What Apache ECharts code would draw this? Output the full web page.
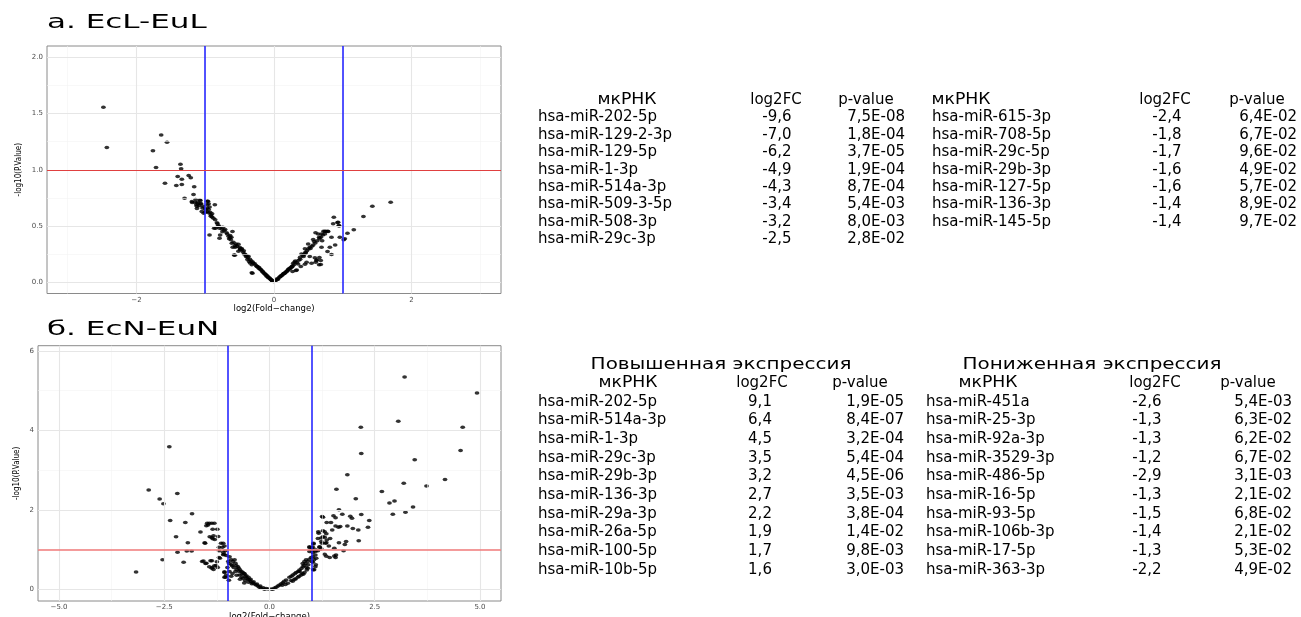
<!DOCTYPE html>
<html><head><meta charset="utf-8">
<script src="https://cdn.jsdelivr.net/npm/echarts@6/dist/echarts.min.js"></script>
<style>html,body{margin:0;padding:0;background:#fff}#c{width:1301px;height:617px}</style>
</head><body><div id="c"></div>
<script>
// ---------- DATA ----------
const aPoints = [
[-2.48,1.556],[-2.43,1.197],[-1.64,1.31],[-1.555,1.245],[-1.76,1.17],[-1.715,1.02],[-1.36,1.05],[-1.35,1.01],[-1.585,0.88],[-1.40,0.94],[-1.34,0.915],[-1.34,0.87],[-1.42,0.86],[-1.24,0.95],[-1.21,0.93],[-1.16,0.85],[-1.30,0.747],[-1.17,0.78],[-1.19,0.71],[-1.14,0.735],[-1.11,0.711],[-1.08,0.732],[-1.07,0.697],[-1.13,0.69],[-1.09,0.68],[-1.12,0.655],[-1.05,0.628],[-1.02,0.613],[-0.97,0.72],[-0.97,0.69],[-0.97,0.66],[-0.95,0.617],
[-1.193,0.717],[-1.15,0.711],[-1.11,0.697],[-1.12,0.676],[-1.07,0.726],[-1.06,0.697],[-1.03,0.676],[-1.0,0.622],[-0.96,0.72],[-0.95,0.697],[-0.937,0.67],[-0.95,0.646],[-0.928,0.622],[-0.90,0.608],[-0.917,0.587],[-0.88,0.569],[-0.86,0.69],[-0.855,0.555],[-0.937,0.421],[-0.83,0.528],[-0.85,0.48],[-0.816,0.498],[-0.792,0.48],[-0.783,0.421],[-0.758,0.474],[-0.744,0.489],[-0.71,0.468],[-0.792,0.391],[-0.638,0.415],[-0.652,0.386],[-0.628,0.377],[-0.613,0.347],[-0.60,0.311],[-0.565,0.326],[-0.54,0.32],[-0.517,0.338],[-0.50,0.311],[-0.493,0.297],[-0.58,0.243],[-0.517,0.276],[-0.468,0.291],[-0.435,0.252],[-0.406,0.228],[-0.372,0.231],[-0.386,0.202],[-0.362,0.184],[-0.348,0.172],[-0.323,0.155],[-0.30,0.169],[-0.323,0.084],[-0.25,0.14],[-0.217,0.131],[-0.193,0.113],[-0.164,0.095],[-0.13,0.071],[-0.106,0.053],[-0.082,0.039],[-0.048,0.024],[-0.01,0.006],
[-0.87,0.48],[-0.725,0.46],[-0.638,0.395],[-0.604,0.451],[-0.59,0.356],[-0.565,0.311],[-0.493,0.288],[-0.57,0.24],[-0.314,0.08],
[-0.45,0.27],[-0.42,0.25],[-0.40,0.235],[-0.38,0.22],[-0.35,0.205],[-0.33,0.19],[-0.31,0.18],[-0.28,0.165],[-0.26,0.15],[-0.24,0.14],[-0.22,0.125],[-0.2,0.115],[-0.18,0.105],[-0.16,0.09],[-0.14,0.08],[-0.12,0.07],[-0.1,0.058],[-0.09,0.05],[-0.07,0.04],[-0.06,0.034],[-0.04,0.022],[-0.03,0.016],[-0.02,0.01],
[-0.68,0.43],[-0.66,0.41],[-0.62,0.40],[-0.55,0.34],[-0.47,0.30],[-0.44,0.28],[-0.69,0.44],[-0.75,0.45],[-0.80,0.5],[-0.82,0.52],[-0.9,0.58],[-0.92,0.6],[-0.98,0.63],[-1.0,0.65],[-1.04,0.66],
[1.696,0.711],[1.43,0.676],[1.30,0.584],[1.16,0.466],[1.068,0.436],[1.029,0.386],[1.014,0.377],[0.957,0.40],[0.87,0.578],[0.86,0.519],[0.923,0.531],[0.942,0.504],[0.72,0.453],[0.75,0.453],[0.78,0.453],[0.642,0.43],[0.604,0.439],[0.657,0.40],[0.70,0.37],[0.836,0.40],[0.889,0.332],[0.812,0.311],[0.691,0.311],[0.584,0.362],[0.57,0.332],[0.52,0.311],[0.50,0.296],[0.459,0.267],[0.778,0.273],[0.836,0.246],[0.40,0.252],[0.43,0.228],[0.38,0.222],[0.52,0.228],[0.594,0.217],[0.618,0.193],[0.546,0.169],[0.656,0.155],[0.31,0.19],[0.30,0.18],[0.28,0.17],[0.35,0.163],[0.474,0.178],[0.256,0.133],[0.232,0.119],[0.207,0.110],[0.184,0.098],[0.159,0.083],[0.135,0.074],[0.11,0.06],[0.077,0.044],[0.039,0.030],[0.005,0.01],[0.319,0.104],
[0.932,0.533],[0.947,0.50],[0.739,0.451],[0.787,0.451],[0.69,0.43],[0.57,0.38],[0.497,0.341],[0.45,0.297],[0.66,0.22],[0.62,0.20],[0.68,0.193],[0.68,0.157],[0.606,0.177],
[0.02,0.012],[0.05,0.025],[0.06,0.03],[0.09,0.05],[0.1,0.055],[0.12,0.065],[0.14,0.075],[0.15,0.08],[0.17,0.09],[0.19,0.1],[0.21,0.115],[0.22,0.12],[0.24,0.13],[0.26,0.14],[0.27,0.145],[0.29,0.155],[0.33,0.175],[0.36,0.195],[0.38,0.205],[0.42,0.24],[0.44,0.25],[0.46,0.26],[0.48,0.28],[0.53,0.30],[0.55,0.32],[0.60,0.35],[0.63,0.37],[0.66,0.39],[0.68,0.40],[0.71,0.42],[0.74,0.43],
[0.27,0.095],[0.33,0.11],[0.39,0.14],[0.45,0.16]
];
const bPoints = [
[3.21,5.34],[4.93,4.94],[3.06,4.23],[2.17,4.08],[4.59,4.08],[2.18,3.42],[4.54,3.49],[3.45,3.26],[1.85,2.88],[4.17,2.76],[3.73,2.60],[3.19,2.67],[2.67,2.46],[2.05,2.28],[1.59,2.52],[2.97,2.22],[2.85,2.17],[3.41,2.07],[3.23,1.94],[2.93,1.89],[1.65,2.0],[2.18,1.88],[2.37,1.73],[2.34,1.56],[2.12,1.22],[1.27,1.81],[1.52,1.85],[1.57,1.80],[1.73,1.89],[1.92,1.84],[1.96,1.79],[1.36,1.68],[1.46,1.68],[1.57,1.59],[1.64,1.56],[1.68,1.58],[1.85,1.59],[1.98,1.53],[2.11,1.49],[1.49,1.49],[1.16,1.45],[1.27,1.47],[1.35,1.40],[1.15,1.28],[1.23,1.29],[1.31,1.31],[1.44,1.28],[1.045,1.14],[1.25,1.16],[1.35,1.17],[1.65,1.17],[1.79,1.13],[1.82,1.2],[1.76,0.97],[1.54,1.03],[1.41,1.09],[1.19,1.06],[1.23,1.02],[1.11,0.99],[0.95,1.05],[1.0,1.05],[1.07,0.99],[0.95,0.95],[1.03,0.92],[1.09,0.86],[0.99,0.80],[1.11,0.78],[1.03,0.68],[1.09,0.57],[1.04,0.49],[0.87,0.74],[0.83,0.70],[0.79,0.65],[0.91,0.53],[0.78,0.40],[1.31,0.88],[1.35,0.83],[1.43,0.80],[1.54,0.84],[1.58,0.86],[1.57,0.80],
[0.079,0.0],[0.158,0.05],[0.238,0.108],[0.317,0.166],[0.396,0.234],[0.475,0.30],[0.554,0.36],[0.633,0.42],[0.713,0.486],[0.792,0.57],[0.855,0.64],[0.91,0.70],[0.95,0.755],[0.435,0.15],[0.515,0.22],[0.594,0.25],[0.673,0.30],[0.752,0.36],[0.83,0.42],[0.886,0.486],[0.713,0.445],[1.01,0.70],[1.03,0.82],[1.0,0.99],[1.03,0.99],[0.95,1.07],[1.03,1.06],[1.045,1.16],[1.09,0.95],[1.15,0.97],[1.06,0.74],[1.1,0.62],[1.06,0.49],[1.19,1.07],[1.23,1.20],[1.27,1.32],[1.17,1.41],[1.31,1.45],[1.33,1.16],[1.36,1.24],[1.25,1.83],
[0.04,0.01],[0.12,0.03],[0.2,0.08],[0.28,0.14],[0.35,0.2],[0.52,0.33],[0.6,0.39],[0.68,0.45],[0.76,0.52],[0.82,0.6],[0.3,0.1],[0.38,0.12],[0.55,0.2],[0.62,0.26],[0.7,0.33],[0.8,0.38],[0.88,0.55],[0.92,0.62],
[-3.17,0.435],[-2.87,2.50],[-2.61,2.27],[-2.52,2.15],[-2.38,3.59],[-2.19,2.41],[-2.36,1.73],[-2.22,1.32],[-2.185,0.93],[-2.54,0.746],[-2.04,0.68],[-2.0,1.68],[-1.84,1.90],[-1.94,1.17],[-1.965,0.965],[-1.85,0.965],[-1.64,1.44],[-1.54,1.17],[-1.48,1.66],[-1.43,1.66],[-1.37,1.66],[-1.31,1.66],[-1.5,1.60],[-1.46,1.62],[-1.35,1.51],[-1.24,1.51],[-1.42,1.32],[-1.37,1.30],[-1.33,1.35],[-1.22,1.33],[-1.35,1.27],[-1.30,1.25],[-1.53,1.16],[-1.15,1.16],[-1.10,1.16],[-1.2,1.06],[-1.12,1.06],[-1.07,1.09],[-1.05,0.97],[-1.03,0.85],[-1.2,0.97],[-1.2,0.80],[-1.08,0.88],[-1.57,0.71],[-1.5,0.655],[-1.37,0.72],[-1.25,0.695],[-1.43,0.57],[-1.37,0.53],[-1.31,0.595],[-1.23,0.545],[-1.33,0.50],[-1.07,0.42],[-1.07,0.30],[-1.03,0.35],
[-1.1,0.93],[-1.1,0.87],[-0.95,0.82],[-0.91,0.74],[-0.87,0.70],[-0.83,0.74],[-0.81,0.655],[-0.79,0.60],[-0.886,0.59],[-0.75,0.57],[-0.73,0.53],[-0.70,0.486],[-0.665,0.445],[-0.634,0.42],[-0.594,0.385],[-0.57,0.32],[-0.54,0.277],[-0.506,0.25],[-0.475,0.234],[-0.435,0.19],[-0.396,0.166],[-0.356,0.134],[-0.316,0.108],[-0.277,0.083],[-0.238,0.05],[-0.198,0.025],[-0.119,0.0],[-1.045,0.30],[-1.07,0.44],[-0.966,0.23],[-0.91,0.33],[-0.81,0.445],[-0.71,0.36],[-0.70,0.25],[-0.63,0.28],
[-0.03,0.01],[-0.08,0.02],[-0.15,0.04],[-0.22,0.08],[-0.3,0.13],[-0.38,0.19],[-0.45,0.25],[-0.5,0.3],[-0.55,0.34],[-0.6,0.4],[-0.65,0.38],[-0.72,0.45],[-0.78,0.5],[-0.85,0.55],[-0.9,0.62],[-0.98,0.7],[-0.42,0.14],[-0.5,0.18],[-0.58,0.22],[-0.66,0.3],[-0.78,0.35],[-0.88,0.4],[-0.95,0.45],[-0.6,0.16],[-1.0,0.55],[-0.96,0.65],
[-1.6,0.7],[-1.52,0.65],[-1.4,0.72],[-1.36,0.55],[-1.27,0.6],[-1.18,0.78]
];
// axis ticks / gridlines
const aXTicks = [-2, 0, 2];
const aXMinor = [-3, -1, 1, 3];
const aYTicks = [0, 0.5, 1, 1.5, 2];
const aYMinor = [0.25, 0.75, 1.25, 1.75];
const bXTicks = [-5, -2.5, 0, 2.5, 5];
const bXMinor = [-3.75, -1.25, 1.25, 3.75];
const bYTicks = [0, 2, 4, 6];
const bYMinor = [1, 3, 5];
const fcThresholds = [-1, 1];
const pThreshold = 1;
// titles
const titleA = 'a. EcL-EuL';
const titleB = 'б. EcN-EuN';
const xTitle = 'log2(Fold\u2212change)';
const yTitle = '-log10(P.Value)';
// tables
const colHeaders = ['мкРНК', 'log2FC', 'p-value'];
const tA1Names = ['hsa-miR-202-5p','hsa-miR-129-2-3p','hsa-miR-129-5p','hsa-miR-1-3p','hsa-miR-514a-3p','hsa-miR-509-3-5p','hsa-miR-508-3p','hsa-miR-29c-3p'];
const tA1Fc = ['-9,6','-7,0','-6,2','-4,9','-4,3','-3,4','-3,2','-2,5'];
const tA1P = ['7,5E-08','1,8E-04','3,7E-05','1,9E-04','8,7E-04','5,4E-03','8,0E-03','2,8E-02'];
const tA2Names = ['hsa-miR-615-3p','hsa-miR-708-5p','hsa-miR-29c-5p','hsa-miR-29b-3p','hsa-miR-127-5p','hsa-miR-136-3p','hsa-miR-145-5p'];
const tA2Fc = ['-2,4','-1,8','-1,7','-1,6','-1,6','-1,4','-1,4'];
const tA2P = ['6,4E-02','6,7E-02','9,6E-02','4,9E-02','5,7E-02','8,9E-02','9,7E-02'];
const tB1Title = 'Повышенная экспрессия';
const tB1Names = ['hsa-miR-202-5p','hsa-miR-514a-3p','hsa-miR-1-3p','hsa-miR-29c-3p','hsa-miR-29b-3p','hsa-miR-136-3p','hsa-miR-29a-3p','hsa-miR-26a-5p','hsa-miR-100-5p','hsa-miR-10b-5p'];
const tB1Fc = ['9,1','6,4','4,5','3,5','3,2','2,7','2,2','1,9','1,7','1,6'];
const tB1P = ['1,9E-05','8,4E-07','3,2E-04','5,4E-04','4,5E-06','3,5E-03','3,8E-04','1,4E-02','9,8E-03','3,0E-03'];
const tB2Title = 'Пониженная экспрессия';
const tB2Names = ['hsa-miR-451a','hsa-miR-25-3p','hsa-miR-92a-3p','hsa-miR-3529-3p','hsa-miR-486-5p','hsa-miR-16-5p','hsa-miR-93-5p','hsa-miR-106b-3p','hsa-miR-17-5p','hsa-miR-363-3p'];
const tB2Fc = ['-2,6','-1,3','-1,3','-1,2','-2,9','-1,3','-1,5','-1,4','-1,3','-2,2'];
const tB2P = ['5,4E-03','6,3E-02','6,2E-02','6,7E-02','3,1E-03','2,1E-02','6,8E-02','2,1E-02','5,3E-02','4,9E-02'];

// ---------- BUILD ----------
const chart = echarts.init(document.getElementById('c'), null, {renderer: 'canvas'});
const minus = s => String(s).replace('-', '\u2212');
const TF = "'DejaVu Sans', sans-serif";
const NARROW = "'Liberation Sans Narrow', 'DejaVu Sans Condensed', sans-serif";
const TS = 15;

function xAxisCfg(gi, min, max, ticks, fmt, gap) {
  return {
    type: 'value', gridIndex: gi, min, max,
    axisLine: {show: false},
    axisTick: {show: true, customValues: ticks, length: 3, lineStyle: {color: '#7f7f7f'}},
    axisLabel: {customValues: ticks, formatter: fmt, fontSize: 7, color: '#4d4d4d', margin: 3, fontFamily: TF},
    splitLine: {show: false},
    name: xTitle, nameLocation: 'middle', nameGap: gap,
    nameTextStyle: {fontSize: 8.5, color: '#000', fontFamily: TF}
  };
}
function yAxisCfg(gi, min, max, ticks, fmt, gap) {
  return {
    type: 'value', gridIndex: gi, min, max,
    axisLine: {show: false},
    axisTick: {show: true, customValues: ticks, length: 3, lineStyle: {color: '#7f7f7f'}},
    axisLabel: {customValues: ticks, formatter: fmt, fontSize: 7, color: '#4d4d4d', margin: 4, fontFamily: TF},
    splitLine: {show: false},
    name: yTitle, nameLocation: 'middle', nameGap: gap, nameRotate: 90,
    nameTextStyle: {fontSize: 8, color: '#000', fontFamily: NARROW}
  };
}
function gridSeries(gi, xMajor, xMinor, yMajor, yMinor) {
  const d = [];
  xMinor.forEach(v => d.push({xAxis: v, lineStyle: {color: '#f3f3f3', width: 0.6, type: 'solid'}}));
  yMinor.forEach(v => d.push({yAxis: v, lineStyle: {color: '#f3f3f3', width: 0.6, type: 'solid'}}));
  xMajor.forEach(v => d.push({xAxis: v, lineStyle: {color: '#e6e6e6', width: 1.1, type: 'solid'}}));
  yMajor.forEach(v => d.push({yAxis: v, lineStyle: {color: '#e6e6e6', width: 1.1, type: 'solid'}}));
  return {type: 'scatter', xAxisIndex: gi, yAxisIndex: gi, data: [], z: 1, silent: true,
    markLine: {silent: true, symbol: 'none', label: {show: false}, animation: false, data: d}};
}
function pointSeries(gi, pts) {
  return {type: 'scatter', xAxisIndex: gi, yAxisIndex: gi, data: pts, z: 3,
    symbol: 'circle', symbolSize: [4.8, 3.5], itemStyle: {color: '#000'}, silent: true, animation: false};
}
function thresholdSeries(gi, redColor, redWidth) {
  const d = fcThresholds.map(v => ({xAxis: v, lineStyle: {color: '#1a1aff', width: 1.5, type: 'solid'}}));
  d.push({yAxis: pThreshold, lineStyle: {color: redColor, width: redWidth, type: 'solid'}});
  return {type: 'scatter', xAxisIndex: gi, yAxisIndex: gi, data: [], z: 4, silent: true,
    markLine: {silent: true, symbol: 'none', label: {show: false}, animation: false, data: d}};
}

// tables as graphic text
const graphics = [];
function txt(x, y, s, align, sx) {
  graphics.push({type: 'text', x, y, scaleX: sx || 1, silent: true,
    style: {text: s, fill: '#000', font: TS + 'px ' + TF, textAlign: align || 'left', textVerticalAlign: 'middle'}});
}
function table(cfg, names, fc, p) {
  txt(cfg.hName, cfg.hy, colHeaders[0], 'center', 1.15);
  txt(cfg.hFc, cfg.hy, colHeaders[1], 'center');
  txt(cfg.hP, cfg.hy, colHeaders[2], 'center');
  names.forEach((n, i) => {
    const y = cfg.y0 + i * cfg.dy;
    txt(cfg.nameX, y, n, 'left');
    txt(cfg.fcX, y, fc[i], 'center');
    txt(cfg.pX, y, p[i], 'right');
  });
}
table({hy: 100, y0: 117.5, dy: 17.4, nameX: 538, hName: 627, hFc: 776, hP: 866, fcX: 777, pX: 905}, tA1Names, tA1Fc, tA1P);
table({hy: 100, y0: 117.5, dy: 17.4, nameX: 932, hName: 961, hFc: 1165, hP: 1257, fcX: 1167, pX: 1297}, tA2Names, tA2Fc, tA2P);
txt(721, 365, tB1Title, 'center', 1.33);
txt(1092, 365, tB2Title, 'center', 1.33);
table({hy: 383, y0: 401.7, dy: 18.7, nameX: 538, hName: 628, hFc: 762, hP: 860, fcX: 760, pX: 904}, tB1Names, tB1Fc, tB1P);
table({hy: 383, y0: 401.7, dy: 18.7, nameX: 926, hName: 988, hFc: 1155, hP: 1248, fcX: 1147, pX: 1292}, tB2Names, tB2Fc, tB2P);
// panel titles (horizontally stretched like the reference)
graphics.push({type: 'text', x: 47, y: 23, scaleX: 1.55, silent: true,
  style: {text: titleA, fill: '#000', font: '20px ' + TF, textAlign: 'left', textVerticalAlign: 'middle'}});
graphics.push({type: 'text', x: 47, y: 330, scaleX: 1.55, silent: true,
  style: {text: titleB, fill: '#000', font: '20px ' + TF, textAlign: 'left', textVerticalAlign: 'middle'}});

const option = {
  animation: false,
  backgroundColor: '#fff',
  grid: [
    {left: 47, top: 46, width: 454, height: 247.5, show: true, borderColor: '#8a8a8a', borderWidth: 1, backgroundColor: '#fff', containLabel: false, outerBoundsMode: 'none'},
    {left: 38, top: 345.7, width: 463, height: 255.3, show: true, borderColor: '#8a8a8a', borderWidth: 1, backgroundColor: '#fff', containLabel: false, outerBoundsMode: 'none'}
  ],
  xAxis: [
    xAxisCfg(0, -3.3, 3.3, aXTicks, v => minus(v), 10),
    xAxisCfg(1, -5.5, 5.5, bXTicks, v => minus(v.toFixed(1)), 8)
  ],
  yAxis: [
    yAxisCfg(0, -0.1, 2.1, aYTicks, v => v.toFixed(1), 24),
    yAxisCfg(1, -0.295, 6.13, bYTicks, v => String(v), 17)
  ],
  series: [
    gridSeries(0, aXTicks, aXMinor, aYTicks, aYMinor),
    gridSeries(1, bXTicks, bXMinor, bYTicks, bYMinor),
    pointSeries(0, aPoints),
    pointSeries(1, bPoints),
    thresholdSeries(0, '#e04040', 1),
    thresholdSeries(1, '#f07a7a', 1.5)
  ],
  graphic: graphics
};
chart.setOption(option);
</script></body></html>
